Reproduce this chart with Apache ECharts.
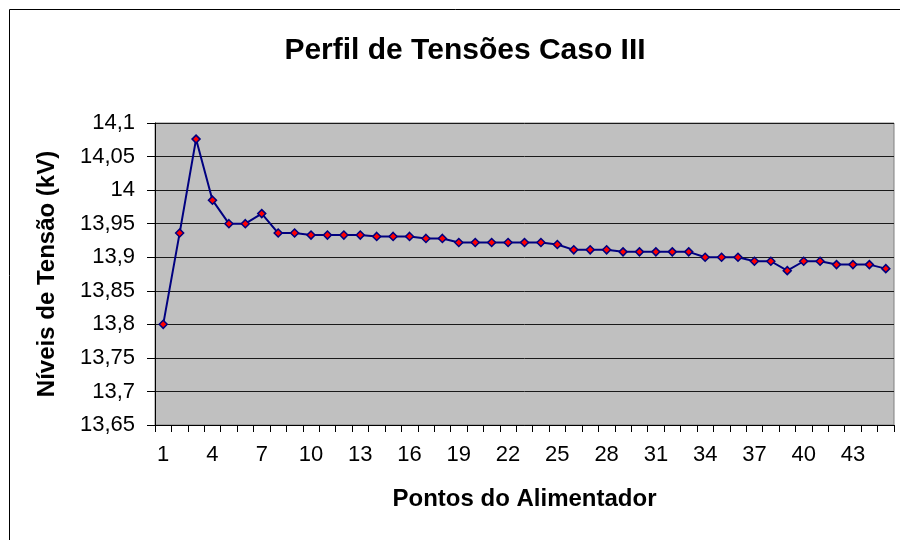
<!DOCTYPE html>
<html>
<head>
<meta charset="utf-8">
<title>Perfil de Tensões Caso III</title>
<script src="https://cdn.jsdelivr.net/npm/echarts@6/dist/echarts.min.js"></script>
<style>
    html, body { margin: 0; padding: 0; background: #ffffff; }
    #chart { width: 900px; height: 540px; }
</style>
</head>
<body>
<div id="chart"></div>
<script>
// pontos do alimentador (1..45)
const pontos = [
    '1', '2', '3', '4', '5', '6', '7', '8', '9', '10',
    '11', '12', '13', '14', '15', '16', '17', '18', '19', '20',
    '21', '22', '23', '24', '25', '26', '27', '28', '29', '30',
    '31', '32', '33', '34', '35', '36', '37', '38', '39', '40',
    '41', '42', '43', '44', '45'
];

// níveis de tensão (kV)
const tensoes = [
    13.8, 13.936, 14.076, 13.985, 13.95, 13.95, 13.965, 13.936, 13.936, 13.933,
    13.933, 13.933, 13.933, 13.931, 13.931, 13.931, 13.928, 13.928, 13.922, 13.922,
    13.922, 13.922, 13.922, 13.922, 13.919, 13.911, 13.911, 13.911, 13.908, 13.908,
    13.908, 13.908, 13.908, 13.9, 13.9, 13.9, 13.894, 13.894, 13.88, 13.894,
    13.894, 13.889, 13.889, 13.889, 13.883
];

// eixo Y
const yMin = 13.65;
const yMax = 14.1;
const yStep = 0.05;

(function () {
    const font = 'Liberation Sans, Arial, sans-serif';

    function init() {
        const chart = echarts.init(document.getElementById('chart'));

        chart.setOption({
            backgroundColor: '#ffffff',
            animation: false,
            textStyle: { fontFamily: font },
            title: {
                text: 'Perfil de Tensões Caso III',
                left: 460,
                top: 31,
                textAlign: 'center',
                textStyle: { fontSize: 30, fontWeight: 'bold', color: '#000', fontFamily: font }
            },
            // moldura externa do gráfico
            graphic: [{
                type: 'rect',
                shape: { x: 9.5, y: 9.5, width: 1000, height: 1000 },
                style: { fill: 'none', stroke: '#000', lineWidth: 1 },
                silent: true
            }],
            grid: {
                left: 155,
                right: 6,
                top: 123,
                bottom: 115,
                show: true,
                backgroundColor: '#c0c0c0',
                borderColor: '#808080',
                borderWidth: 1
            },
            xAxis: {
                type: 'category',
                data: pontos,
                boundaryGap: true,
                name: 'Pontos do Alimentador',
                nameLocation: 'middle',
                nameGap: 62,
                nameTextStyle: { fontSize: 24, fontWeight: 'bold', color: '#000', fontFamily: font },
                axisLine: { lineStyle: { color: '#000', width: 1 } },
                axisTick: { show: true, interval: 0, length: 7, lineStyle: { color: '#000' } },
                axisLabel: { interval: 2, margin: 19, fontSize: 22, color: '#000', fontFamily: font },
                splitLine: { show: false }
            },
            yAxis: {
                type: 'value',
                min: yMin,
                max: yMax,
                interval: yStep,
                name: 'Níveis de Tensão (kV)',
                nameLocation: 'middle',
                nameGap: 96,
                nameTextStyle: { fontSize: 24, fontWeight: 'bold', color: '#000', fontFamily: font },
                axisLine: { show: true, lineStyle: { color: '#000', width: 1 } },
                axisTick: { show: true, length: 8, lineStyle: { color: '#000' } },
                axisLabel: {
                    margin: 20,
                    fontSize: 22,
                    color: '#000',
                    fontFamily: font,
                    formatter: function (v) {
                        return String(+v.toFixed(2)).replace('.', ',');
                    }
                },
                splitLine: { show: true, lineStyle: { color: '#1a1a1a', width: 1 } }
            },
            series: [{
                name: 'Tensão',
                type: 'line',
                data: tensoes,
                symbol: 'diamond',
                symbolSize: 8,
                showSymbol: true,
                lineStyle: { color: '#000080', width: 2 },
                itemStyle: { color: '#ff0000', borderColor: '#000080', borderWidth: 1.5 }
            }]
        });
    }

    document.addEventListener('DOMContentLoaded', init);
})();
</script>
</body>
</html>
